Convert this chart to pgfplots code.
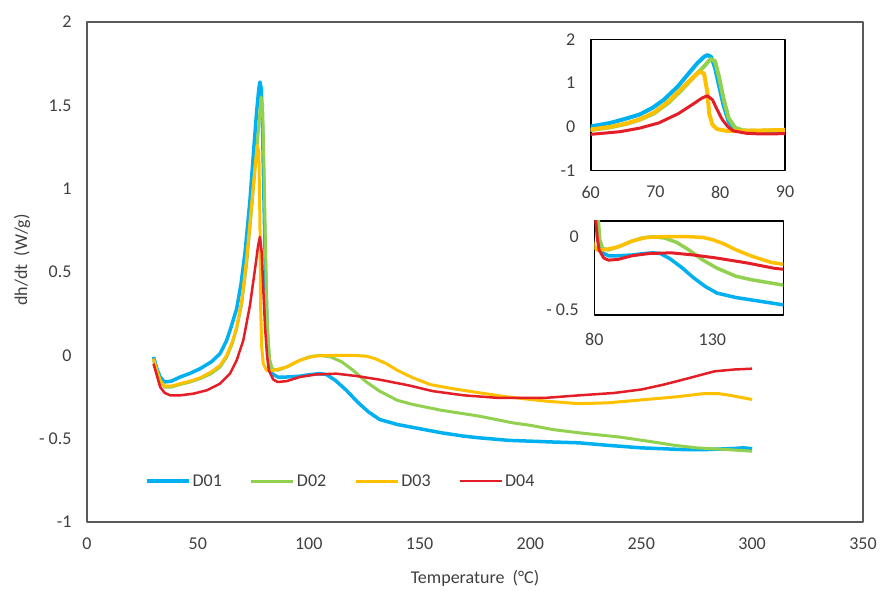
\documentclass[border=0pt]{standalone}
\usepackage{fontspec}
\setmainfont{Carlito}
\usepackage{pgfplots}
\usepackage{pgfplotstable}
\pgfplotsset{compat=1.18}
\definecolor{dblue}{HTML}{00B0F0}
\definecolor{dgreen}{HTML}{92D050}
\definecolor{dorange}{HTML}{FFC000}
\definecolor{dred}{HTML}{E41E26}
\definecolor{boxgray}{HTML}{595959}
\definecolor{labgray}{HTML}{404040}

% D01
\pgfplotstableread{
T y
30 -0.01
31.5 -0.08
33 -0.13
35 -0.16
38 -0.155
42 -0.13
46.5 -0.108
51 -0.08
56 -0.04
60 0.01
63 0.09
65 0.17
67.5 0.28
69.5 0.43
71.3 0.62
73.5 0.93
75 1.20
76.5 1.46
77.5 1.60
78 1.64
78.6 1.60
79.2 1.35
79.8 0.95
80.5 0.50
81.3 0.12
82.3 -0.06
83.5 -0.11
86 -0.13
90 -0.13
96 -0.125
101 -0.115
105 -0.11
108 -0.115
112 -0.15
117 -0.21
122 -0.28
127 -0.34
132 -0.385
140 -0.415
150 -0.44
160 -0.465
170 -0.485
177 -0.495
190 -0.51
200 -0.515
210 -0.52
222 -0.525
235 -0.54
250 -0.555
268 -0.565
280 -0.565
290 -0.56
296 -0.555
300 -0.56
}\dA
% D02
\pgfplotstableread{
T y
30 -0.03
31.5 -0.10
33 -0.16
35 -0.19
38 -0.19
42 -0.175
46.5 -0.16
51 -0.14
56 -0.11
60 -0.07
63 -0.01
65.5 0.07
67.5 0.16
69.8 0.31
72 0.55
74 0.84
76 1.15
77.5 1.38
78.5 1.55
79.2 1.50
79.8 1.15
80.5 0.65
81.3 0.20
82.3 -0.02
83.5 -0.08
86 -0.09
90 -0.07
96 -0.03
100 -0.01
105 0.0
110 -0.01
115 -0.04
120 -0.09
126 -0.16
132 -0.215
140 -0.27
147 -0.295
160 -0.33
177 -0.365
192 -0.405
200 -0.42
210 -0.445
222 -0.465
240 -0.49
253 -0.515
265 -0.54
275 -0.555
288 -0.565
300 -0.575
}\dB
% D03
\pgfplotstableread{
T y
30 -0.02
31.5 -0.09
33 -0.15
35 -0.185
38 -0.185
42 -0.17
46.5 -0.155
51 -0.135
56 -0.10
60 -0.06
63 0.00
65.5 0.08
67.5 0.17
69.8 0.33
72 0.58
74 0.87
75.5 1.09
76.8 1.26
77.5 1.22
78 0.8
78.3 0.3
78.8 0.05
79.5 -0.05
81 -0.09
84 -0.09
90 -0.07
96 -0.03
102 -0.005
110 0.0
120 0.0
126 -0.005
130 -0.02
135 -0.05
140 -0.09
147 -0.135
155 -0.176
165 -0.2
177 -0.225
190 -0.25
207 -0.275
222 -0.29
235 -0.285
252 -0.265
265 -0.25
278 -0.23
285 -0.23
290 -0.24
300 -0.265
}\dC
% D04
\pgfplotstableread{
T y
30 -0.05
31.5 -0.12
33 -0.19
35 -0.225
37.5 -0.24
42 -0.24
48 -0.23
54 -0.21
60 -0.17
64.5 -0.11
67.5 -0.03
70.5 0.09
73.5 0.30
75.8 0.52
77.2 0.66
78 0.71
78.8 0.62
79.5 0.40
80.3 0.17
81.2 0.0
82 -0.09
84 -0.145
86 -0.16
90 -0.155
96 -0.13
103 -0.115
112.5 -0.11
122 -0.125
132 -0.146
145 -0.18
156 -0.215
170 -0.24
185 -0.255
207 -0.255
222 -0.24
237.6 -0.226
250 -0.205
260 -0.176
272 -0.135
283 -0.096
292 -0.085
300 -0.08
}\dD

\pgfplotsset{
  dsc/.style={
    scale only axis,
    major tick length=0pt,
    tick label style={font=\fontsize{18}{21}\selectfont, text=labgray},
    xticklabel style={yshift=-12pt},
    yticklabel style={xshift=-12pt},
  },
}

\begin{document}
\begin{tikzpicture}
\begin{axis}[dsc,
  at={(0pt,0pt)}, anchor=south west,
  width=776pt, height=500pt,
  xmin=0, xmax=350, ymin=-1, ymax=2,
  xtick={0,50,100,150,200,250,300,350},
  xticklabels={0,50,100,150,200,250,300,350},
  ytick={-1,-0.5,0,0.5,1,1.5,2},
  yticklabels={-1,- 0.5,0,0.5,1,1.5,2},
  axis line style={draw=boxgray, line width=2pt},
  line join=round,
  legend columns=4,
  legend image code/.code={\draw[#1] (0pt,0pt) -- (42pt,0pt);},
  legend style={at={(0.0747,0.082)}, anchor=west, draw=none, fill=none,
    inner sep=0pt, font=\fontsize{18}{21}\selectfont, text=labgray,
    nodes={inner xsep=2pt, inner ysep=1pt},
    /tikz/every even column/.append style={column sep=26pt}},
]
\addplot[dblue, line width=3.5pt] table[x=T,y=y] {\dA};
\addplot[dgreen, line width=3pt] table[x=T,y=y] {\dB};
\addplot[dorange, line width=3pt] table[x=T,y=y] {\dC};
\addplot[dred, line width=2.5pt] table[x=T,y=y] {\dD};
\legend{D01,D02,D03,D04}
\end{axis}

% inset 60-90
\begin{axis}[dsc,
  at={(503.7pt,351.3pt)}, anchor=south west,
  width=194.3pt, height=131.4pt,
  xmin=60, xmax=90, ymin=-1, ymax=2,
  xtick={60,70,80,90}, xticklabels={60,70,80,90},
  ytick={-1,0,1,2}, yticklabels={-1,0,1,2},
  axis line style={draw=black, line width=1.6pt},
  axis background/.style={fill=white},
  line join=round,
]
\addplot[dblue, line width=4pt] table[x=T,y=y] {\dA};
\addplot[dgreen, line width=4pt] table[x=T,y=y] {\dB};
\addplot[dorange, line width=4pt] table[x=T,y=y] {\dC};
\addplot[dred, line width=3pt] table[x=T,y=y] {\dD};
\end{axis}

% inset 80-160
\begin{axis}[dsc,
  at={(507.3pt,207pt)}, anchor=south west,
  width=189pt, height=94.3pt,
  xmin=80, xmax=160, ymin=-0.534, ymax=0.109,
  xtick={80,130}, xticklabels={80,130},
  ytick={-0.5,0}, yticklabels={- 0.5,0},
  xticklabel style={yshift=-3pt},
  axis line style={draw=black, line width=1.6pt},
  axis background/.style={fill=white},
  line join=round,
]
\addplot[dblue, line width=3.5pt] table[x=T,y=y] {\dA};
\addplot[dgreen, line width=3.5pt] table[x=T,y=y] {\dB};
\addplot[dorange, line width=3.5pt] table[x=T,y=y] {\dC};
\addplot[dred, line width=3pt] table[x=T,y=y] {\dD};
\end{axis}

\node[font=\fontsize{18}{21}\selectfont, text=labgray] at (388pt,-56pt) {Temperature\hspace{4pt} (°C)};
\node[font=\fontsize{18}{21}\selectfont, text=labgray, rotate=90] at (-65pt,262pt) {dh/dt\hspace{4pt} (W/g)};

\pgfresetboundingbox
\path[use as bounding box] (-87pt,-68pt) rectangle (794pt,522pt);
\end{tikzpicture}
\end{document}
